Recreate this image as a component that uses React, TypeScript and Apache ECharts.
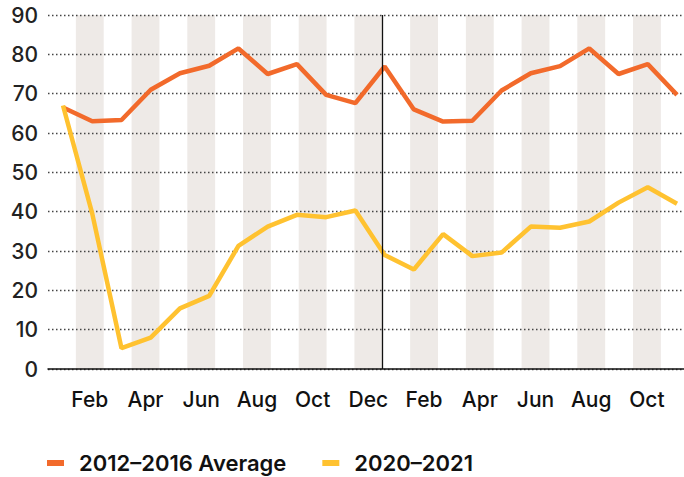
import { useEffect, useRef } from "react";
import * as echarts from "echarts";

const monthNames = ["Jan", "Feb", "Mar", "Apr", "May", "Jun", "Jul", "Aug", "Sep", "Oct", "Nov", "Dec"];
const months = [...monthNames, ...monthNames]; // Jan 2020 – Dec 2021
const avg20122016 = [66.5, 63, 63.3, 71, 75.2, 77.1, 81.5, 75, 77.5, 69.7, 67.6, 76.9, 66, 62.9, 63.1, 70.8, 75.2, 77, 81.5, 75, 77.5, 69.7];
const y20202021 = [67, 39.5, 5.3, 8, 15.4, 18.6, 31.3, 36.2, 39.2, 38.6, 40.3, 29, 25.3, 34.3, 28.7, 29.6, 36.2, 35.9, 37.5, 42.3, 46.2, 42];
const labelledMonths = [1, 3, 5, 7, 9, 11, 13, 15, 17, 19, 21];
const yearBreak = 11.5; // end of Dec 2020
const yMin = 0;
const yMax = 90;
const yStep = 10;

const ORANGE = "#F26A2B";
const YELLOW = "#FFC230";
const BAND = "#EEEAE7";
const FONT = "Inter";

export default function App() {
  const ref = useRef<HTMLDivElement>(null);
  useEffect(() => {
    if (!ref.current) return;
    const chart = echarts.init(ref.current, null, { renderer: "svg" });
    const n = avg20122016.length;
    chart.setOption({
      animation: false,
      grid: { left: 48, right: 0, top: 15, bottom: 108, containLabel: false },
      legend: {
        left: 42,
        top: 447,
        icon: "rect",
        itemWidth: 17,
        itemHeight: 6,
        itemGap: 36,
        data: ["2012–2016 Average", "2020–2021"],
        textStyle: { fontFamily: FONT, fontSize: 22, fontWeight: 600, color: "#111", padding: [0, 0, 0, 10] },
      },
      xAxis: [
        {
          type: "value",
          min: -0.513,
          max: n - 1 + 0.239,
          show: false,
        },
        {
          type: "value",
          min: -0.5,
          max: 22.33,
          position: "bottom",
          z: 1.5,
          axisLine: { show: true, onZero: false, lineStyle: { color: "#111", width: 1.5 } },
          axisTick: { show: false },
          splitLine: { show: false },
          axisLabel: {
            customValues: labelledMonths,
            formatter: (v: number) => months[Math.round(v)] ?? "",
            fontFamily: FONT,
            fontSize: 21,
            fontWeight: 500,
            color: "#111",
            margin: 20,
          },
        },
      ],
      yAxis: {
        type: "value",
        min: yMin,
        max: yMax,
        interval: yStep,
        z: 1.5,
        axisLine: { show: false },
        axisTick: { show: false },
        axisLabel: { fontFamily: FONT, fontSize: 21, fontWeight: 500, color: "#222", margin: 10 },
        splitLine: { show: true, lineStyle: { color: "#444", type: [1.5, 2.5], width: 1.3 } },
      },
      series: [
        {
          type: "line",
          name: "bands",
          xAxisIndex: 1,
          data: [],
          silent: true,
          markArea: {
            silent: true,
            itemStyle: { color: BAND },
            data: labelledMonths.map((m) => [{ xAxis: m - 0.5 }, { xAxis: m + 0.5 }]),
          },
          markLine: {
            silent: true,
            symbol: "none",
            label: { show: false },
            lineStyle: { color: "#111", width: 1.3, type: "solid" },
            data: [{ xAxis: yearBreak }],
          },
        },
        {
          type: "line",
          name: "2012–2016 Average",
          xAxisIndex: 0,
          data: avg20122016.map((v, i) => [i, v]),
          showSymbol: false,
          lineStyle: { color: ORANGE, width: 4.5 },
          itemStyle: { color: ORANGE },
          z: 3,
        },
        {
          type: "line",
          name: "2020–2021",
          xAxisIndex: 0,
          data: y20202021.map((v, i) => [i, v]),
          showSymbol: false,
          lineStyle: { color: YELLOW, width: 4.5 },
          itemStyle: { color: YELLOW },
          z: 3,
        },
      ],
    });
    return () => chart.dispose();
  }, []);
  return <div ref={ref} style={{ position: "absolute", left: 0, top: 0, width: 684, height: 477 }} />;
}
